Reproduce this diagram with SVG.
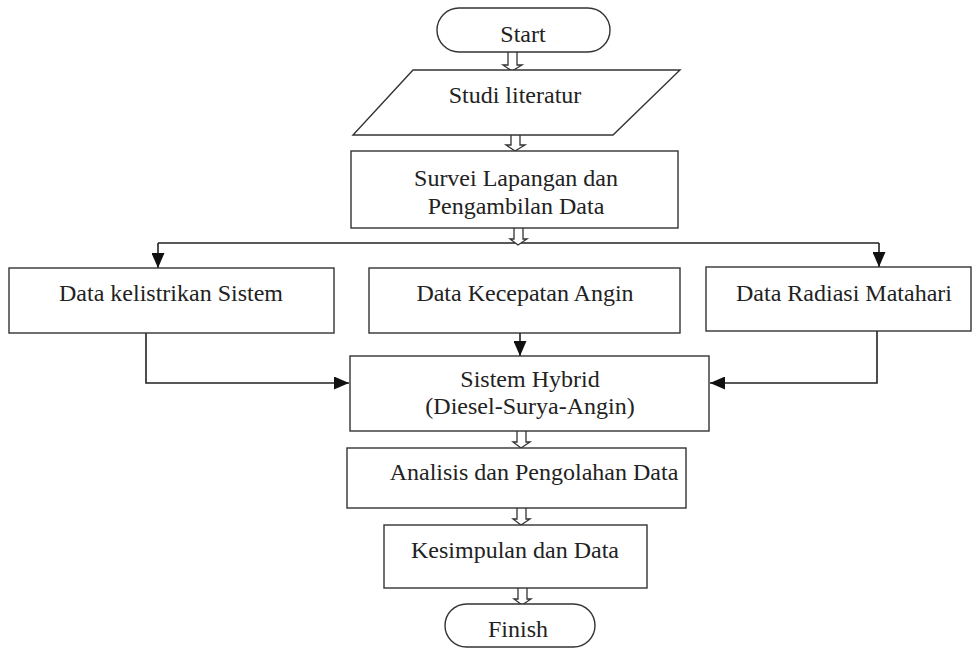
<svg xmlns="http://www.w3.org/2000/svg" width="972" height="648" viewBox="0 0 972 648">
<style>
.box{fill:#fff;stroke:#333;stroke-width:1.4}
.ln{fill:none;stroke:#222;stroke-width:1.6}
.ha{fill:#fff;stroke:#333;stroke-width:1.3}
text{font-family:"Liberation Serif","Times New Roman",serif;font-size:24px;fill:#222;text-anchor:middle}
</style>
<defs>
<marker id="ah" viewBox="0 0 15 13" refX="15" refY="6.5" markerWidth="15" markerHeight="13" markerUnits="userSpaceOnUse" orient="auto">
<path d="M0,0 L15,6.5 L0,13 Z" fill="#111"/>
</marker>
</defs>
<rect width="972" height="648" fill="#fff"/>
<g id="connectors">
<path class="ln" d="M158,243 H879"/>
<path class="ln" d="M158,243 V268" marker-end="url(#ah)"/>
<path class="ln" d="M879,243 V267" marker-end="url(#ah)"/>
<path class="ln" d="M520,333 V356" marker-end="url(#ah)"/>
<path class="ln" d="M146,333 V383 H349" marker-end="url(#ah)"/>
<path class="ln" d="M877,331 V383 H710" marker-end="url(#ah)"/>
<path class="ha" d="M508,52 V65 H503 L512,71 L522,65 H517 V52"/>
<path class="ha" d="M511,135 V145 H506 L515,151 L525,145 H520 V135"/>
<path class="ha" d="M514,228 V239 H510 L518,245 L527,239 H523 V228"/>
<path class="ha" d="M517,431 V442 H513 L521,448 L530,442 H526 V431"/>
<path class="ha" d="M517,508 V519 H513 L521,525 L530,519 H526 V508"/>
<path class="ha" d="M518,588 V599 H514 L522,605 L531,599 H527 V588"/>
</g>
<g id="start">
<rect class="box" x="437" y="8" width="173" height="44" rx="22"/>
<text x="523" y="42">Start</text>
</g>
<g id="studi">
<path class="box" d="M413,70 H680 L613,135 H353 Z"/>
<text x="515" y="103">Studi literatur</text>
</g>
<g id="survei">
<rect class="box" x="351" y="151" width="327" height="77"/>
<text x="516" y="186">Survei Lapangan dan</text>
<text x="516" y="214">Pengambilan Data</text>
</g>
<g id="kelistrikan">
<rect class="box" x="9" y="268" width="325" height="65"/>
<text x="171" y="301">Data kelistrikan Sistem</text>
</g>
<g id="kecepatan">
<rect class="box" x="369" y="268" width="311" height="65"/>
<text x="525" y="301">Data Kecepatan Angin</text>
</g>
<g id="radiasi">
<rect class="box" x="706" y="267" width="265" height="64"/>
<text x="844" y="301">Data Radiasi Matahari</text>
</g>
<g id="hybrid">
<rect class="box" x="350" y="356" width="359" height="75"/>
<text x="530" y="387">Sistem Hybrid</text>
<text x="530" y="414">(Diesel-Surya-Angin)</text>
</g>
<g id="analisis">
<rect class="box" x="347" y="448" width="339" height="60"/>
<text x="534" y="480">Analisis dan Pengolahan Data</text>
</g>
<g id="kesimpulan">
<rect class="box" x="384" y="525" width="263" height="63"/>
<text x="515" y="558">Kesimpulan dan Data</text>
</g>
<g id="finish">
<rect class="box" x="445" y="604" width="150" height="43" rx="21.5"/>
<text x="518" y="637">Finish</text>
</g>
</svg>
